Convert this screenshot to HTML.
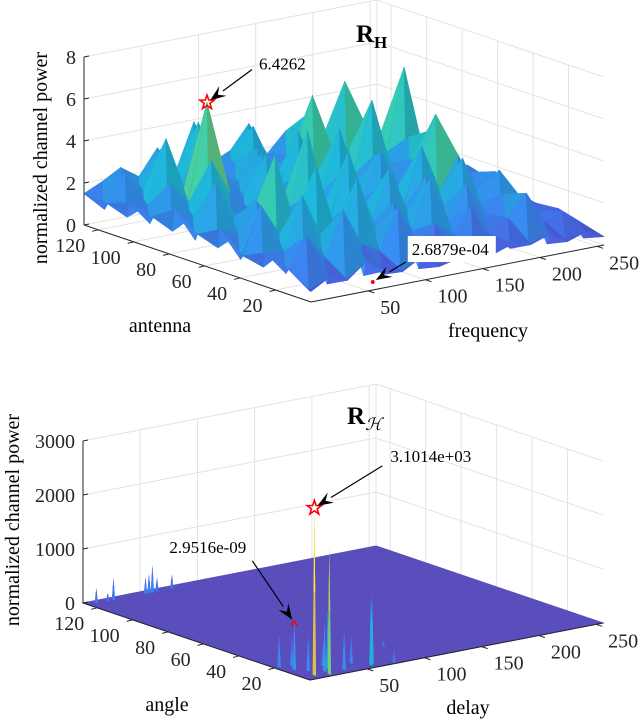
<!DOCTYPE html>
<html><head><meta charset="utf-8"><style>
html,body{margin:0;padding:0;background:#fff;}
svg{display:block;font-family:"Liberation Serif",serif;}
</style></head><body>
<svg id="fig" width="640" height="720" viewBox="0 0 640 720" xmlns="http://www.w3.org/2000/svg">
<g id="top"></g>
<g id="bot"></g>
</svg>
<script>
// ---------- data: top plot (antenna x frequency grid) ----------
const topAntenna = [0,12.8,25.6,38.4,51.2,64,76.8,89.6,102.4,115.2,128];
const topFrequency = [0,16,32,48,64,80,96,112,128,144,160,176,192,208,224,240,256];
const topPower = [
[0.5,1.0,0.7,1.4,0.8,0.6,1.1,0.5,0.7,1.2,0.6,0.9,0.7,1.0,0.5,0.8,0.4],
[1.2,2.6,1.4,3.5,1.7,1.2,3.1,1.1,2.0,1.3,2.4,1.0,1.6,2.6,1.1,1.4,0.7],
[1.6,1.5,4.0,2.0,1.4,4.3,1.8,2.8,1.3,3.6,1.5,3.0,1.4,2.2,1.8,1.1,1.0],
[1.1,3.3,1.8,1.5,4.7,1.6,2.6,1.5,3.9,1.7,3.2,1.6,3.7,1.4,2.8,1.4,0.9],
[2.0,1.6,3.0,5.0,1.7,2.9,1.4,4.5,1.9,2.7,1.3,4.1,1.8,3.3,1.5,2.2,1.1],
[1.4,3.7,1.9,1.5,3.4,1.8,5.3,1.7,3.1,1.5,3.7,1.9,2.6,4.9,1.7,1.8,1.3],
[2.2,1.7,4.2,2.5,1.6,4.0,1.9,2.8,1.6,4.5,1.8,3.0,1.5,2.4,3.6,1.5,1.6],
[1.5,2.9,1.8,6.43,2.1,1.7,3.5,1.8,4.2,2.0,2.7,1.6,5.0,1.8,2.9,1.4,1.4],
[1.8,1.5,4.5,2.0,3.7,2.3,1.8,3.2,1.7,2.5,5.2,1.9,2.3,3.1,1.8,5.7,1.3],
[1.4,2.6,1.7,3.5,1.8,4.4,1.7,2.2,3.7,1.7,2.0,3.8,1.7,5.0,1.6,2.3,1.5],
[1.5,1.9,2.4,1.8,3.0,1.7,3.9,1.8,2.2,3.3,1.7,2.6,2.0,1.9,3.1,1.8,1.2]];
const topMax = {a:89.6, f:48, v:6.4262, label:"6.4262"};
const topMin = {a:8.4, f:67, v:0.00027, label:"2.6879e-04"};
const topZTicks = [0,2,4,6,8];
const antTicks = [20,40,60,80,100,120];
const freqTicks = [50,100,150,200,250];

// ---------- data: bottom plot (spikes on angle x delay) ----------
const spikeAngle = [4,2,14,10,18,6,8,12,20,4,16,3,5,1,20,9,125,125,125,125,125,125,125,125];
const spikeDelay = [10,20,8,14,12,22,28,30,4,36,40,58,62,75,95,50,7,17,22,50,53,56,60,73];
const spikeValue = [3101,2350,870,650,500,900,1100,400,600,700,350,1300,1100,250,150,500,280,150,400,300,350,500,250,260];
const botMax = {a:4, d:10, v:3101.4, label:"3.1014e+03"};
const botMin = {a:14, d:8, v:870, label:"2.9516e-09"};
const botZTicks = [0,1000,2000,3000];

// ---------- helpers ----------
const NS="http://www.w3.org/2000/svg";
function el(tag, attrs, parent){const e=document.createElementNS(NS,tag);for(const k in attrs)e.setAttribute(k,attrs[k]);parent.appendChild(e);return e;}
const PAR=[[0,[85,75,205]],[0.15,[75,105,235]],[0.3,[55,140,240]],[0.45,[30,180,215]],[0.58,[55,200,170]],[0.7,[130,205,110]],[0.8,[200,195,75]],[0.9,[245,190,60]],[1,[250,225,40]]];
function parula(t){t=Math.max(0,Math.min(1,t));for(let i=1;i<PAR.length;i++){if(t<=PAR[i][0]){const [t0,c0]=PAR[i-1],[t1,c1]=PAR[i];const u=(t-t0)/(t1-t0);return c0.map((c,k)=>Math.round(c+(c1[k]-c)*u));}}return PAR[PAR.length-1][1];}
function rgb(c,s){return `rgb(${Math.min(255,Math.round(c[0]*s))},${Math.min(255,Math.round(c[1]*s))},${Math.min(255,Math.round(c[2]*s))})`;}
function makeProj(ox,oy,zs){return (a,f,z)=>[ox-227*a/128+293*f/256, oy-77*a/128-57*f/256-z*zs];}
function pts(arr){return arr.map(p=>p[0].toFixed(1)+","+p[1].toFixed(1)).join(" ");}

function drawFrame(g,P,zTicks,zmax,xTicks,fTicks){
  const grid="#e3e3e3";
  zTicks.forEach(z=>{
    const l=el("polyline",{points:pts([P(128,0,z),P(128,256,z),P(0,256,z)]),fill:"none",stroke:grid,"stroke-width":1},g);
    
    
  });
  fTicks.forEach(f=>{
    const l=el("polyline",{points:pts([P(0,f,0),P(128,f,0),P(128,f,zmax)]),fill:"none",stroke:grid,"stroke-width":1},g);
    
    
  });
  xTicks.forEach(a=>{
    const l=el("polyline",{points:pts([P(a,0,0),P(a,256,0),P(a,256,zmax)]),fill:"none",stroke:grid,"stroke-width":1},g);
    
    
  });
  const e=el("line",{x1:P(128,256,0)[0],y1:P(128,256,0)[1],x2:P(128,256,zmax)[0],y2:P(128,256,zmax)[1],stroke:grid},g);
  
  
}
function drawAxes(g,P,zTicks,zmax,xTicks,fTicks,xl,fl){
  const ax="#262626";
  const za=el("line",{x1:P(128,0,0)[0],y1:P(128,0,0)[1],x2:P(128,0,zmax)[0],y2:P(128,0,zmax)[1],stroke:ax},g);
  
  
  const xa=el("line",{x1:P(0,0,0)[0],y1:P(0,0,0)[1],x2:P(128,0,0)[0],y2:P(128,0,0)[1],stroke:ax},g);
  
  
  const fa=el("line",{x1:P(0,0,0)[0],y1:P(0,0,0)[1],x2:P(0,256,0)[0],y2:P(0,256,0)[1],stroke:ax},g);
  
  
  zTicks.forEach(z=>{
    const p=P(128,0,z);
    const t=el("line",{x1:p[0],y1:p[1],x2:p[0]+5,y2:p[1]-1,stroke:ax},g);
    
    
    const tx=el("text",{x:p[0]-8,y:p[1]+7,"text-anchor":"end","font-size":20,fill:ax},g);
    tx.textContent=z;
    
    
  });
  xTicks.forEach(a=>{
    const p=P(a,0,0);
    const t=el("line",{x1:p[0],y1:p[1],x2:p[0]-6,y2:p[1]+1.5,stroke:ax},g);
    
    
    const tx=el("text",{x:p[0]-13,y:p[1]+22,"text-anchor":"end","font-size":20,fill:ax},g);
    tx.textContent=a;
    
    
  });
  fTicks.forEach(f=>{
    const p=P(0,f,0);
    const t=el("line",{x1:p[0],y1:p[1],x2:p[0]+6,y2:p[1]+2,stroke:ax},g);
    
    
    const tx=el("text",{x:p[0]+12,y:p[1]+23,"text-anchor":"start","font-size":20,fill:ax},g);
    tx.textContent=f;
    
    
  });
}
function star(g,c,name){
  const p=[];for(let i=0;i<10;i++){const r=i%2?3:7.5;const ang=-Math.PI/2+i*Math.PI/5;p.push([c[0]+r*Math.cos(ang),c[1]+r*Math.sin(ang)]);}
  const s=el("polygon",{points:pts(p),fill:"none",stroke:"#ff0000","stroke-width":1.6},g);
  
  
}
function arrow(g,x1,y1,x2,y2,name){
  const ang=Math.atan2(y2-y1,x2-x1),L=16,W=6;
  const bx=x2-L*Math.cos(ang),by=y2-L*Math.sin(ang);
  const l=el("line",{x1:x1,y1:y1,x2:bx,y2:by,stroke:"#000","stroke-width":1.2},g);
  
  
  const h=el("polygon",{points:pts([[x2,y2],[bx-W*Math.sin(ang),by+W*Math.cos(ang)],[x2-L*0.6*Math.cos(ang),y2-L*0.6*Math.sin(ang)],[bx+W*Math.sin(ang),by-W*Math.cos(ang)]]),fill:"#000"},g);
  
  
}
function text(g,x,y,s,size,name,anchor,extra){
  const t=el("text",Object.assign({x:x,y:y,"font-size":size,fill:"#000","text-anchor":anchor||"start"},extra||{}),g);
  t.textContent=s;
  
  
  return t;
}

// ---------- top plot ----------
(function(){
  const g=document.getElementById("top");
  const P=makeProj(311,302,21);
  drawFrame(g,P,topZTicks,8,antTicks,freqTicks);
  const quads=[];
  for(let i=0;i<topAntenna.length-1;i++)for(let j=0;j<topFrequency.length-1;j++){
    const v=[topPower[i][j],topPower[i][j+1],topPower[i+1][j+1],topPower[i+1][j]];
    const a=[topAntenna[i],topAntenna[i],topAntenna[i+1],topAntenna[i+1]];
    const f=[topFrequency[j],topFrequency[j+1],topFrequency[j+1],topFrequency[j]];
    const mid=Math.min(...v)*0.6;
    const ca=(a[0]+a[2])/2,cf=(f[0]+f[1])/2;
    for(let k=0;k<4;k++){
      const k2=(k+1)%4;
      const tri=[[a[k],f[k],v[k]],[a[k2],f[k2],v[k2]],[ca,cf,mid]];
      const zavg=(v[k]+v[k2]+mid)/3;
      const depth=(tri[0][0]+tri[1][0]+ca)/3/128+(tri[0][1]+tri[1][1]+cf)/3/256;
      const shade=0.95+0.1*((v[k]-v[k2])/(Math.abs(v[k]-v[k2])+1));
      quads.push({tri,zavg,depth,shade});
    }
  }
  quads.sort((p,q)=>q.depth-p.depth);
  const sg=el("g",{},g);
  
  
  quads.forEach(q=>{
    const c=rgb(parula(q.zavg/5.2),q.shade);
    const p=el("polygon",{points:pts(q.tri.map(t=>P(t[0],t[1],t[2]))),fill:c,stroke:c,"stroke-width":0.6,"stroke-linejoin":"round"},sg);
    
    
  });
  drawAxes(g,P,topZTicks,8,antTicks,freqTicks,"antenna","frequency");
  const mx=P(topMax.a,topMax.f,topMax.v);
  star(g,mx,"max-marker");
  arrow(g,mx[0]+45,mx[1]-33,mx[0]+3,mx[1]-2,"max-arrow");
  text(g,mx[0]+52,mx[1]-33,topMax.label,17,"max-annotation");
  const mn=P(topMin.a,topMin.f,topMin.v);
  const r=el("circle",{cx:mn[0],cy:mn[1],r:2,fill:"#ff0000"},g);
  
  
  const bx=el("rect",{x:mn[0]+35,y:mn[1]-46,width:88,height:26,fill:"#fff"},g);
  
  
  text(g,mn[0]+39,mn[1]-27,topMin.label,17,"min-annotation");
  arrow(g,mn[0]+33,mn[1]-20,mn[0]+3,mn[1]-2,"min-arrow");
  text(g,356,42,"R",25,"plot-title","start",{"font-weight":"bold"});
  text(g,374,48,"H",17,"plot-title-subscript","start",{"font-weight":"bold"});
  text(g,0,0,"normalized  channel  power",20,"z-axis-title","middle",{transform:"translate(47,158) rotate(-90)"});
  text(g,160,332,"antenna",20,"x-axis-title","middle");
  text(g,488,337,"frequency",20,"y-axis-title","middle");
})();

// ---------- bottom plot ----------
(function(){
  const g=document.getElementById("bot");
  const zs=54/1000;
  const P=makeProj(310,680,zs);
  drawFrame(g,P,botZTicks,3000,antTicks,freqTicks);
  const pl=el("polygon",{points:pts([P(0,0,0),P(128,0,0),P(128,256,0),P(0,256,0)]),fill:"#5a4dbc",stroke:"#5a4dbc"},g);
  
  
  const idx=spikeValue.map((v,i)=>i).sort((i,j)=>(spikeAngle[j]/128+spikeDelay[j]/256)-(spikeAngle[i]/128+spikeDelay[i]/256));
  const sg=el("g",{},g);
  
  
  idx.forEach(i=>{
    const a=spikeAngle[i],d=spikeDelay[i],v=spikeValue[i];
    const tip=P(a,d,v);
    const b2=P(a+1,d,0),b4=P(a-1,d,0);
    const lo=rgb(parula(0.2),1);
    const p2=el("polygon",{points:pts([tip,b2,b4]),fill:rgb(parula(v/3101*0.7+0.15),1),stroke:"none"},sg);
    
    
    const p3=el("polygon",{points:pts([tip,P(a+0.5,d,v*0.5),P(a-0.5,d,v*0.5)]),fill:rgb(parula(v/3101),1.05)},sg);
    
    
  });
  drawAxes(g,P,botZTicks,3000,antTicks,freqTicks,"angle","delay");
  const mx=P(botMax.a,botMax.d,botMax.v);
  star(g,mx,"max-marker");
  arrow(g,mx[0]+68,mx[1]-42,mx[0]+3,mx[1]-2,"max-arrow");
  text(g,mx[0]+76,mx[1]-46,botMax.label,17,"max-annotation");
  const mn=P(botMin.a,botMin.d,botMin.v);
  const r=el("path",{d:`M${mn[0]-3},${mn[1]+3} L${mn[0]},${mn[1]-2} L${mn[0]+3},${mn[1]+3}`,fill:"none",stroke:"#ff0000","stroke-width":1.5},g);
  
  
  arrow(g,mn[0]-42,mn[1]-62,mn[0]-2,mn[1]-3,"min-arrow");
  text(g,mn[0]-125,mn[1]-70,botMin.label,17,"min-annotation");
  text(g,347,424,"R",25,"plot-title","start",{"font-weight":"bold"});
  text(g,365,430,"\u210B",17,"plot-title-subscript","start",{"font-style":"italic"});
  text(g,0,0,"normalized  channel  power",20,"z-axis-title","middle",{transform:"translate(19,520) rotate(-90)"});
  text(g,167,711,"angle",20,"x-axis-title","middle");
  text(g,468,714,"delay",20,"y-axis-title","middle");
})();
</script>
</body></html>
